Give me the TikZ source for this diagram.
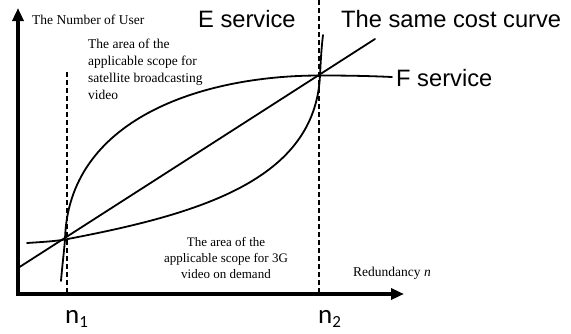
\documentclass[tikz,border=0pt]{standalone}
\usepackage{fontspec}
\setmainfont{Liberation Serif}
\newfontfamily\arialf{Liberation Sans}
\newfontfamily\calf{Carlito}
\usetikzlibrary{arrows.meta}
\begin{document}
\begin{tikzpicture}[x=1pt,y=-1pt,
 axisline/.style={line width=3.5pt, -{Triangle[length=13pt,width=11pt]}},
 curveline/.style={line width=1.8pt, line join=round, line cap=round},
 guide/.style={line width=1.8pt, dash pattern=on 5pt off 3pt},
 serif/.style={font=\fontsize{13.5}{17}\selectfont, inner sep=0pt},
 serifs/.style={font=\fontsize{13}{16}\selectfont, inner sep=0pt},
 big/.style={font=\arialf\fontsize{23.7}{28}\selectfont, inner sep=0pt},
 nlab/.style={font=\calf\fontsize{27}{30}\selectfont, inner sep=0pt}]
\useasboundingbox (0,0) rectangle (571,333);

% dashed guides
\coordinate (g1t) at (67,72);
\coordinate (g1b) at (67,293);
\coordinate (g2t) at (319,0);
\coordinate (g2b) at (319,293);
\draw[guide] (g1t) -- (g1b);
\draw[guide] (g2t) -- (g2b);

% straight line
\coordinate (s0) at (18,268);
\coordinate (s1) at (375,39);
\draw[curveline] (s0) -- (s1);

% intersections
\coordinate (pL) at (65,239.5);
\coordinate (pR) at (320,75.5);

% upper curve (to F service)
\draw[curveline] (61,281) .. controls (62,268) and (64,252) .. (pL)
  .. controls (68,120) and (200,75.5) .. (pR)
  .. controls (350,75.5) and (370,76) .. (392,77);

% lower curve
\draw[curveline] (27,243) .. controls (45,241.8) and (55,241.2) .. (pL)
  .. controls (200,214) and (315,180) .. (pR)
  .. controls (321.5,45) and (322.5,40) .. (323,35);

% axes
\coordinate (o) at (18,294);
\coordinate (ytip) at (18,8);
\coordinate (xtip) at (404,294);
\draw[axisline] (18,295.75) -- (ytip);
\draw[axisline] (16.25,294) -- (xtip);

% labels
\node[serif, anchor=base west] (ylab) at (32,24) {The Number of User};
\node[big, anchor=base west] (eserv) at (198,27) {E service};
\node[big, anchor=base west] (same) at (341,27) {The same cost curve};
\node[big, anchor=base west] (fserv) at (396,86) {F service};
\node[serif, anchor=north west, align=left] (sat) at (88,39)
 {The area of the\\applicable scope for\\satellite broadcasting\\video};
\node[serifs, anchor=north, align=center] (vod) at (226,237)
 {The area of the\\applicable scope for 3G\\video on demand};
\node[serif, anchor=base west] (xlab) at (353,276) {Redundancy \textit{n}};
\node[nlab, anchor=base west] (n1) at (65,323) {n\raisebox{-4pt}{\fontsize{17}{17}\selectfont 1}};
\node[nlab, anchor=base west] (n2) at (318,323) {n\raisebox{-4pt}{\fontsize{17}{17}\selectfont 2}};
\end{tikzpicture}
\end{document}
